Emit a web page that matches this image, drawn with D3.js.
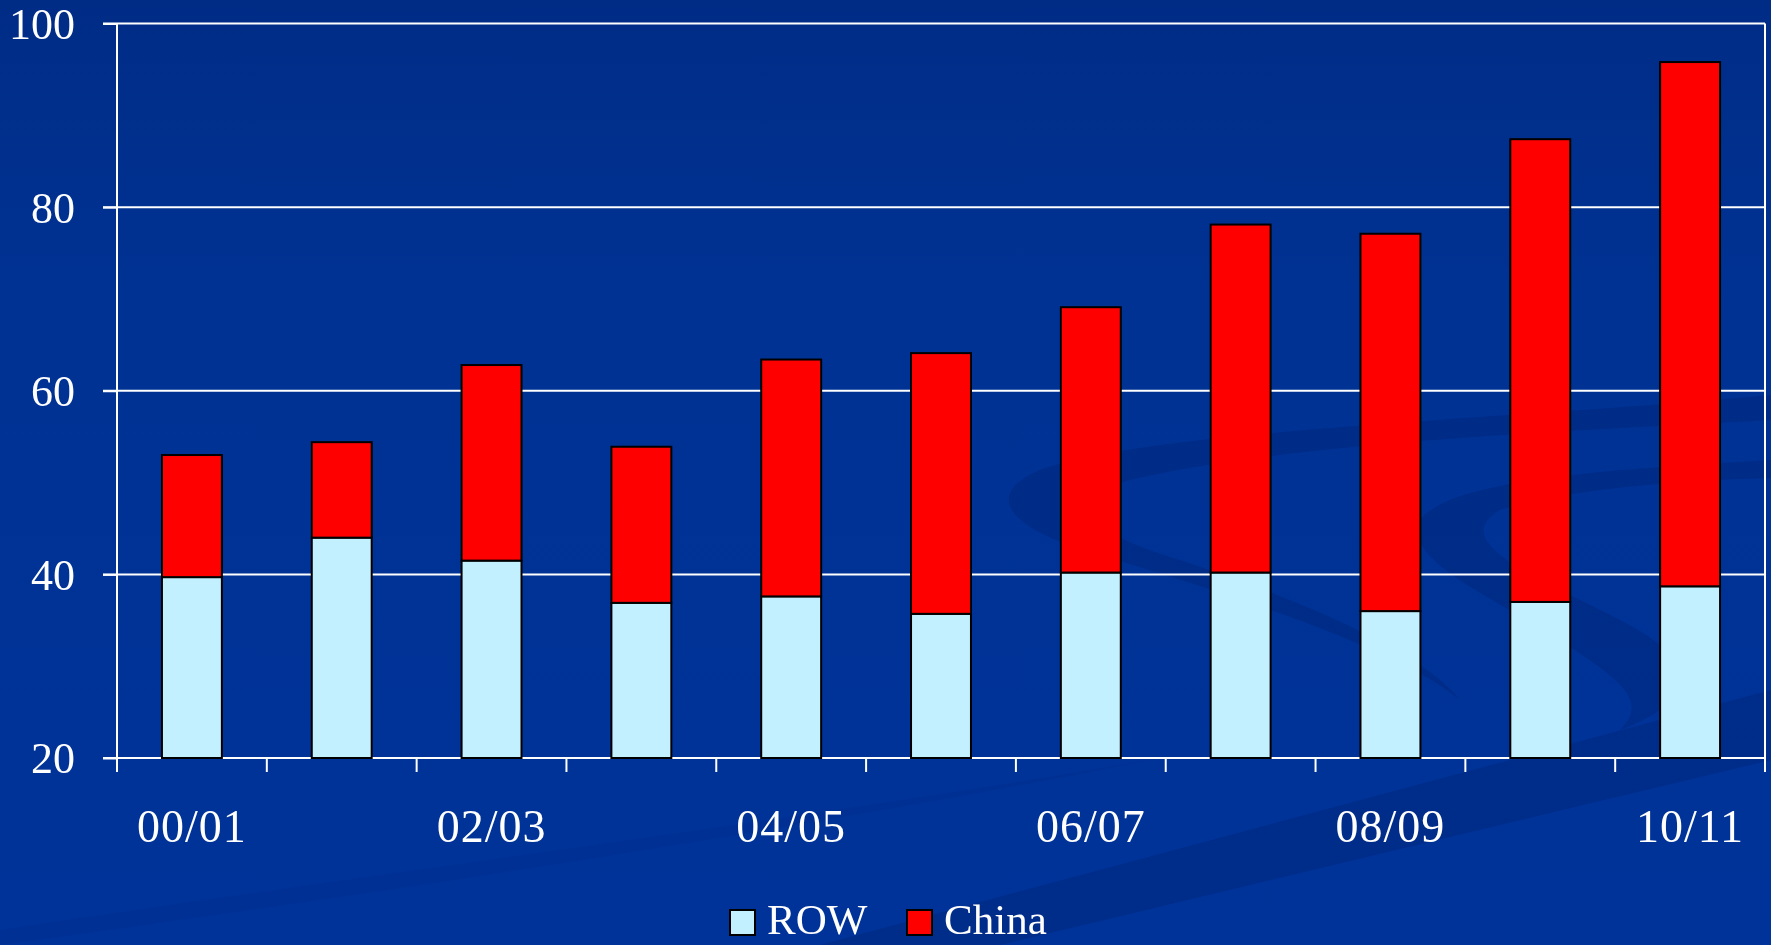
<!DOCTYPE html>
<html>
<head>
<meta charset="utf-8">
<script src="https://cdn.jsdelivr.net/npm/d3@7/dist/d3.min.js"></script>
<style>
  html, body { margin: 0; padding: 0; background: #003399; }
  svg { display: block; }
  text { font-family: "Liberation Serif", "Times New Roman", serif; fill: #ffffff; }
</style>
</head>
<body>
<svg id="chart" width="1771" height="945"></svg>
<script>
// ---- Data ----
const categories = ["00/01","01/02","02/03","03/04","04/05","05/06","06/07","07/08","08/09","09/10","10/11"];
const tickLabels = ["00/01","02/03","04/05","06/07","08/09","10/11"];
const rowValues   = [39.7, 44.0, 41.5, 36.9, 37.6, 35.7, 40.2, 40.2, 36.0, 37.0, 38.7];
const chinaValues = [13.3, 10.4, 21.3, 17.0, 25.8, 28.4, 28.9, 37.9, 41.1, 50.4, 57.1];
const yTicks = [20, 40, 60, 80, 100];
const seriesNames = ["ROW", "China"];
const seriesColors = ["#c3f0fe", "#ff0000"];

const W = 1771, H = 945;
const margin = { left: 117, right: 6, top: 23.5, bottom: 187 };
const svg = d3.select("#chart");

// ---- Background ----
const defs = svg.append("defs");
const grad = defs.append("linearGradient").attr("id", "bg").attr("x1", 0).attr("y1", 0).attr("x2", 0).attr("y2", 1);
grad.append("stop").attr("offset", "0%").attr("stop-color", "#002c86");
grad.append("stop").attr("offset", "30%").attr("stop-color", "#003293");
grad.append("stop").attr("offset", "100%").attr("stop-color", "#003399");
svg.append("rect").attr("width", W).attr("height", H).attr("fill", "url(#bg)");

// decorative swooshes
const deco = svg.append("g").attr("fill", "#00287f").attr("opacity", 0.55);
deco.append("path").attr("d", "M 820 945 L 1771 690 L 1771 760 L 1000 945 Z");
deco.append("path").attr("d", "M 1771 395 C 1500 420, 1150 430, 1040 470 C 980 495, 1010 530, 1100 555 C 1250 600, 1400 650, 1460 700 C 1420 650, 1300 600, 1180 560 C 1080 530, 1060 500, 1130 480 C 1300 440, 1600 430, 1771 420 Z");
deco.append("path").attr("d", "M 1771 460 C 1600 470, 1450 480, 1420 520 C 1400 560, 1500 600, 1560 640 C 1620 680, 1650 700, 1620 730 C 1700 700, 1700 660, 1620 620 C 1520 570, 1450 540, 1500 510 C 1560 490, 1680 480, 1771 478 Z");
deco.append("path").attr("d", "M 0 930 C 400 870, 800 820, 1150 760 C 800 830, 400 890, 0 945 Z").attr("opacity", 0.3);

// ---- Scales ----
const x = d3.scaleBand().domain(categories)
  .range([margin.left, W - margin.right]).paddingInner(0.6).paddingOuter(0.3);
const xb = d3.scaleBand().domain(categories).range([margin.left, W - margin.right]).padding(0);
const y = d3.scaleLinear().domain([20, 100]).range([H - margin.bottom, margin.top]);

// ---- Grid lines ----
const g = svg.append("g");
g.selectAll("line.grid").data(yTicks).join("line")
  .attr("class", "grid")
  .attr("x1", margin.left - 14).attr("x2", W - margin.right)
  .attr("y1", d => y(d)).attr("y2", d => y(d))
  .attr("stroke", "#ffffff").attr("stroke-width", 2);

// ---- Bars ----
const stackData = categories.map((c, i) => ({ cat: c, ROW: rowValues[i], China: chinaValues[i] }));
const stacked = d3.stack().keys(seriesNames)(stackData);
stacked.forEach((layer, si) => {
  svg.append("g").selectAll("rect").data(layer).join("rect")
    .attr("x", d => x(d.data.cat))
    .attr("width", x.bandwidth())
    .attr("y", d => y(d[1]))
    .attr("height", d => y(Math.max(d[0], 20)) - y(d[1]))
    .attr("fill", seriesColors[si])
    .attr("stroke", "#000000").attr("stroke-width", 2);
});

// ---- Axes ----
const yAxis = d3.axisLeft(y).tickValues(yTicks).tickSize(14).tickPadding(28);
const yG = svg.append("g").attr("transform", `translate(${margin.left},0)`).call(yAxis);
yG.select(".domain").attr("stroke", "#ffffff").attr("stroke-width", 2)
  .attr("d", `M0,${margin.top}V${H - margin.bottom + 14}`);
yG.selectAll(".tick line").attr("stroke", "#ffffff").attr("stroke-width", 2);
yG.selectAll(".tick text").style("font-size", "44px").attr("dy", "0.34em").attr("fill", "#ffffff");

// x axis: ticks at band boundaries
const boundaries = categories.map(c => xb(c)).concat([xb(categories[categories.length - 1]) + xb.bandwidth()]);
svg.append("g").selectAll("line").data(boundaries).join("line")
  .attr("x1", d => d).attr("x2", d => d)
  .attr("y1", (d, i) => i === boundaries.length - 1 ? margin.top : y(20))
  .attr("y2", y(20) + 14)
  .attr("stroke", "#ffffff").attr("stroke-width", 2);

svg.append("g").selectAll("text").data(tickLabels).join("text")
  .attr("x", d => x(d) + x.bandwidth() / 2)
  .attr("y", 842)
  .attr("text-anchor", "middle")
  .style("font-size", "46px")
  .style("letter-spacing", "1px")
  .text(d => d);

// ---- Legend ----
const legend = svg.append("g");
const legendPos = [730, 907];
seriesNames.forEach((name, i) => {
  legend.append("rect").attr("x", legendPos[i]).attr("y", 910).attr("width", 25).attr("height", 25)
    .attr("fill", seriesColors[i]).attr("stroke", "#000000").attr("stroke-width", 2);
  legend.append("text").attr("x", legendPos[i] + 37).attr("y", 934)
    .style("font-size", "43px").text(name);
});
</script>
</body>
</html>
